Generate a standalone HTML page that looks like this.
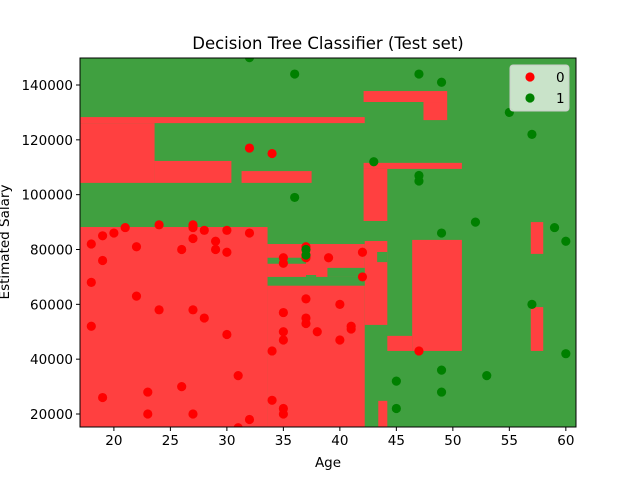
<!DOCTYPE html>
<html><head><meta charset="utf-8"><style>
body{margin:0;background:#fff;}
svg{display:block;font-family:"DejaVu Sans","Liberation Sans",sans-serif;}
</style></head><body>
<svg id="c" width="640" height="480"></svg>
<script>
const ageDomain=[17.0,60.9];
const salDomain=[15260,149850];
const xTicks=[20,25,30,35,40,45,50,55,60];
const yTicks=[20000,40000,60000,80000,100000,120000,140000];
// red decision regions [ageMin, ageMax, salMin(k), salMax(k)]
const redRegions=[
[17,42.2,126.1,128.3],[17,23.6,104.3,126.1],[23.6,30.4,104.3,112.3],[31.3,37.5,104.3,108.6],
[17,33.6,15.26,88.2],[33.6,42.2,15.26,82.0],[42.2,44.2,52.5,83.1],[43.4,44.2,15.26,24.8],
[46.4,50.8,43.0,83.5],[44.2,46.4,43.0,48.5],[42.1,49.5,133.8,137.8],[47.4,49.5,127.2,133.8],
[42.1,50.8,109.4,111.6],[42.1,44.2,90.4,109.4],[56.9,58.0,78.4,90.0],[56.9,58.0,43.0,59.0]];
// green holes inside red regions
const greenRegions=[[43.3,44.2,75.4,79.1],[33.6,37.0,74.8,77.0],[33.6,42.2,66.8,70.0],[38.9,42.2,70.0,73.3],[37.0,37.9,70.0,70.7]];
const redAge=[18,19,20,21,24,27,27,28,30,32,22,26,27,29,29,30,19,18,22,24,27,28,18,30,34,31,26,23,19,34,23,27,32,31,37,35,35,37,39,42,42,37,40,35,37,37,38,41,41,35,35,40,35,35,47,32,34];
const redSal=[82000,85000,86000,88000,89000,89000,88000,87000,87000,86000,81000,80000,84000,83000,80000,79000,76000,68000,63000,58000,58000,55000,52000,49000,43000,34000,30000,28000,26000,25000,20000,20000,18000,15000,81000,77000,75000,77000,77000,79000,70000,62000,60000,57000,55000,53000,50000,52000,51000,50000,47000,47000,22000,20000,43000,117000,115000];
const greenAge=[32,36,36,47,49,55,57,43,47,47,52,49,59,60,37,37,49,45,49,45,53,57,60];
const greenSal=[150000,144000,99000,144000,141000,130000,122000,112000,107000,105000,90000,86000,88000,83000,80000,78000,36000,32000,28000,22000,34000,60000,42000];

const L=80,R=576,T=58,B=427;
const X=a=>L+(a-ageDomain[0])/(ageDomain[1]-ageDomain[0])*(R-L);
const Y=s=>B-(s-salDomain[0])/(salDomain[1]-salDomain[0])*(B-T);
const svg=document.getElementById('c');
const NS='http://www.w3.org/2000/svg';
function mk(t,a,p){const e=document.createElementNS(NS,t);for(const k in a)e.setAttribute(k,a[k]);(p||svg).appendChild(e);return e;}
const clip=mk('clipPath',{id:'pc'});mk('rect',{x:L,y:T,width:R-L,height:B-T},clip);
const bg=mk('rect',{x:L,y:T,width:R-L,height:B-T,fill:'#40a040'});


const g=mk('g',{'clip-path':'url(#pc)'});
redRegions.forEach(r=>{const e=mk('rect',{x:X(r[0]),y:Y(r[3]*1000),width:X(r[1])-X(r[0]),height:Y(r[2]*1000)-Y(r[3]*1000),fill:'#ff4040'},g);

});
greenRegions.forEach(r=>{const e=mk('rect',{x:X(r[0]),y:Y(r[3]*1000),width:X(r[1])-X(r[0]),height:Y(r[2]*1000)-Y(r[3]*1000),fill:'#40a040'},g);

});
redAge.forEach((a,i)=>{const e=mk('circle',{cx:X(a),cy:Y(redSal[i]),r:4.6,fill:'#ff0000'},g);

});
greenAge.forEach((a,i)=>{const e=mk('circle',{cx:X(a),cy:Y(greenSal[i]),r:4.6,fill:'#008000'},g);

});
const fr=mk('rect',{x:L,y:T,width:R-L,height:B-T,fill:'none',stroke:'#000','stroke-width':1});


xTicks.forEach(t=>{mk('line',{x1:X(t),x2:X(t),y1:B,y2:B+4,stroke:'#000'});
const e=mk('text',{x:X(t),y:B+18,'text-anchor':'middle','font-size':13.5});e.textContent=t;

});
yTicks.forEach(t=>{mk('line',{x1:L-4,x2:L,y1:Y(t),y2:Y(t),stroke:'#000'});
const e=mk('text',{x:L-7,y:Y(t)+5,'text-anchor':'end','font-size':13.5});e.textContent=t;

});
</script>
<div style="position:absolute;left:0;top:0;width:640px;height:480px;pointer-events:none">
<svg width="640" height="480" style="font-family:'DejaVu Sans','Liberation Sans',sans-serif">
<text x="328" y="49" text-anchor="middle" font-size="16.5">Decision Tree Classifier (Test set)</text>
<text x="328" y="467" text-anchor="middle" font-size="13.5">Age</text>
<text transform="translate(9,242) rotate(-90)" text-anchor="middle" font-size="13.5">Estimated Salary</text>
<g>
<rect x="510" y="65" width="59" height="46" rx="3" fill="#e2efe2" fill-opacity="0.85" stroke="#ccc"/>
<circle cx="530" cy="77" r="4.6" fill="#ff0000"/>
<text x="556" y="82" font-size="13.5">0</text>
<circle cx="530" cy="98" r="4.6" fill="#008000"/>
<text x="556" y="103" font-size="13.5">1</text>
</g>
</svg></div>
</body></html>
